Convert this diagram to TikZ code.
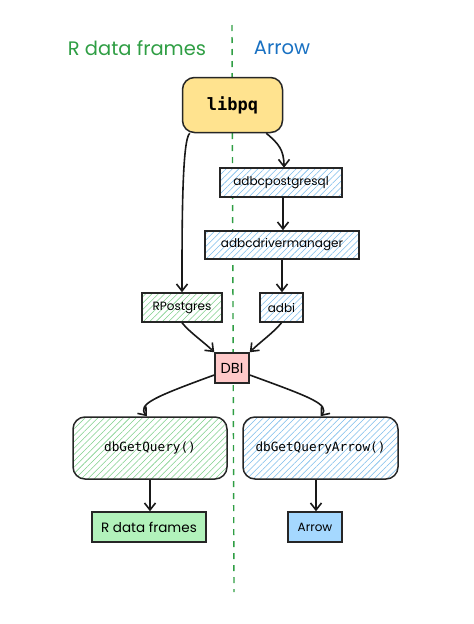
\documentclass[tikz,border=0pt]{standalone}
\usepackage{fontspec}
\setmainfont{Poppins}
\setmonofont{DejaVu Sans Mono}
\usetikzlibrary{arrows.meta,patterns.meta,calc}
\definecolor{exgreen}{HTML}{2F9E44}
\definecolor{exblue}{HTML}{1971C2}
\definecolor{hgreen}{HTML}{7FD08C}
\definecolor{hblue}{HTML}{7CBDEB}
\definecolor{libyellow}{HTML}{FFE38F}
\definecolor{dbipink}{HTML}{FFC9C9}
\definecolor{solgreen}{HTML}{B2F2BB}
\definecolor{solblue}{HTML}{A5D8FF}
\tikzset{
  box/.style={draw=black!85,line width=1.5pt,inner sep=0pt,align=center,
    font=\fontsize{12}{14}\selectfont},
  hatchgreen/.style={preaction={fill=white},
    pattern={Lines[angle=45,distance=4.5pt,line width=0.55pt]},pattern color=hgreen},
  hatchblue/.style={preaction={fill=white},
    pattern={Lines[angle=45,distance=4.5pt,line width=0.55pt]},pattern color=hblue},
  codebox/.style={box,rounded corners=12pt,font=\ttfamily\fontsize{12.7}{14}\selectfont},
  arr/.style={draw=black!90,line width=1.6pt,-{Straight Barb[length=7pt,width=11pt]}},
  divider/.style={draw=exgreen,line width=1.4pt,dash pattern=on 6pt off 6pt},
  title/.style={font=\fontsize{19.5}{23}\selectfont}
}
\begin{document}
\begin{tikzpicture}[x=1pt,y=-1pt]
\useasboundingbox (0,0) rectangle (474,624);
\coordinate (dtop) at (232,25);
\coordinate (dbot) at (234,592);
\draw[divider] (dtop) -- (dbot);

\node[title,text=exgreen] (tl) at (137,48) {R data frames};
\node[title,text=exblue] (tr) at (282,48) {Arrow};

\node[box,rounded corners=12pt,fill=libyellow,minimum width=100pt,minimum height=55pt,
  font=\ttfamily\bfseries\fontsize{17}{19}\selectfont] (libpq) at (232.5,105) {libpq};
\node[box,hatchblue,minimum width=122pt,minimum height=29pt] (adbcpg) at (281,182.5) {adbcpostgresql};
\node[box,hatchblue,minimum width=154pt,minimum height=28pt] (adbcdm) at (282,245) {adbcdrivermanager};
\node[box,hatchgreen,minimum width=80pt,minimum height=29pt] (rpg) at (182,307.5) {RPostgres};
\node[box,hatchblue,minimum width=43pt,minimum height=29pt] (adbi) at (281.5,307.5) {adbi};
\node[box,fill=dbipink,minimum width=34pt,minimum height=30pt,font=\fontsize{14.5}{16}\selectfont] (dbi) at (232,368) {DBI};
\node[codebox,hatchgreen,minimum width=154pt,minimum height=62pt] (dbq) at (150,448) {dbGetQuery()};
\node[codebox,hatchblue,minimum width=155pt,minimum height=62pt] (dbqa) at (320.5,448) {dbGetQueryArrow()};
\node[box,fill=solgreen,minimum width=114pt,minimum height=30pt,font=\fontsize{13.5}{15}\selectfont] (rdf) at (149,527) {R data frames};
\node[box,fill=solblue,minimum width=54pt,minimum height=30pt] (arrowbox) at (315,527) {Arrow};

\draw[arr] ([xshift=8pt]libpq.south west) .. controls +(-8,6) and +(0,-60) .. (rpg.north);
\draw[arr] ([xshift=-17pt]libpq.south east) .. controls +(12,10) and +(0,-18) .. ([xshift=3pt]adbcpg.north);
\draw[arr] ([xshift=2pt]adbcpg.south) -- ([xshift=2pt]adbcpg.south |- adbcdm.north);
\draw[arr] (adbcdm.south) -- (adbcdm.south |- adbi.north);
\draw[arr] (rpg.south) .. controls +(8,10) and +(-10,-10) .. (dbi.north west);
\draw[arr] (adbi.south) .. controls +(-8,10) and +(10,-10) .. (dbi.north east);
\draw[arr] ([yshift=-7pt]dbi.west) .. controls +(-60,22) and +(-10,-12) .. ([xshift=-3pt]dbq.north);
\draw[arr] ([yshift=-7pt]dbi.east) .. controls +(60,22) and +(10,-12) .. (dbqa.north);
\draw[arr] (dbq.south) -- (dbq.south |- rdf.north);
\draw[arr] ([xshift=1pt]arrowbox.north |- dbqa.south) -- ([xshift=1pt]arrowbox.north);
\end{tikzpicture}
\end{document}
